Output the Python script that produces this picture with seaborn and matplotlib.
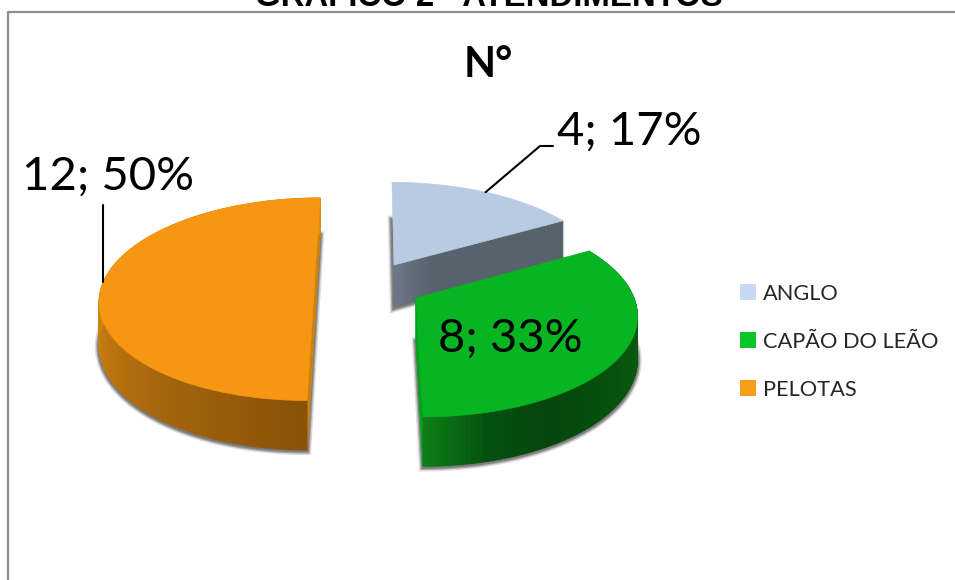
import numpy as np
import matplotlib
matplotlib.use('Agg')
import matplotlib.pyplot as plt
import seaborn as sns
from matplotlib.colors import LinearSegmentedColormap
from matplotlib.patches import Patch

categories = ['ANGLO', 'CAPÃO DO LEÃO', 'PELOTAS']
values = [4, 8, 12]
top_colors = ['#b7cbe3', '#07b421', '#f69612']
legend_colors = ['#c6d9f1', '#0cc42c', '#f99d1c']

# apex x, apex y, rx, ry, lean of the 0-180 axis (one geometry per exploded slice)
slice_geom = [(394, 265, 211, 95, -2.3), (416, 298, 218, 101, -6), (314.5, 284, 212, 99, 6.35)]
PERSP = 0.15
DEPTH = 42

sns.set_theme(style='white')
plt.rcParams['font.family'] = ['Lato', 'DejaVu Sans']


def project(geom, deg, r=1.0, drop=0):
    cx, cy, rx, ry, lean = geom
    t = np.radians(deg)
    u, v = r * np.sin(t), r * np.cos(t)
    w = 1 + PERSP * v
    return cx + (rx * u + lean * v) / w, cy - ry * v / w + drop / w


def outline(geom, a, b, drop=0):
    deg = np.linspace(a, b, 120)
    xs, ys = project(geom, deg, drop=drop)
    ax_, ay_ = project(geom, a, r=0, drop=drop)
    return np.r_[ax_, xs], np.r_[ay_, ys]


def draw_rim(ax, geom, a, b, cmap):
    deg = np.linspace(a, b, 90)
    for i in range(len(deg) - 1):
        x0, y0 = project(geom, deg[i])
        x1, y1 = project(geom, deg[i + 1])
        x2, y2 = project(geom, deg[i + 1], drop=DEPTH)
        x3, y3 = project(geom, deg[i], drop=DEPTH)
        c = cmap(i / (len(deg) - 2))
        ax.fill([x0, x1, x2, x3], [y0, y1, y2, y3], color=c, lw=0.6, zorder=3)


def draw_cut(ax, geom, deg, cmap):
    # flat face between the apex and the rim at angle deg
    rr = np.linspace(0, 1, 40)
    for i in range(len(rr) - 1):
        x0, y0 = project(geom, deg, r=rr[i])
        x1, y1 = project(geom, deg, r=rr[i + 1])
        x2, y2 = project(geom, deg, r=rr[i + 1], drop=DEPTH)
        x3, y3 = project(geom, deg, r=rr[i], drop=DEPTH)
        ax.fill([x0, x1, x2, x3], [y0, y1, y2, y3], color=cmap(i / 38), lw=0.6, zorder=3)


fig, ax = plt.subplots(figsize=(9.55, 5.8), dpi=100)
fig.subplots_adjust(0, 0, 1, 1)
ax.set_xlim(0, 955)
ax.set_ylim(580, 0)
ax.axis('off')
sns.despine(ax=ax, left=True, bottom=True)

# chart frame
ax.plot([8, 8, 956], [581, 12, 12], color='#8f8f8f', lw=1.6, zorder=1)

ax.text(489, 6, 'GRÁFICO 2 - ATENDIMENTOS', family='Liberation Sans', fontweight='bold',
        fontsize=23.7, ha='center', va='baseline', color='black')
ax.text(488, 65, 'N°', fontweight='bold', fontsize=30, ha='center', va='center', color='black')

total = sum(values)
spans = np.cumsum([0] + values) / total * 360
rim_maps = [
    None,
    LinearSegmentedColormap.from_list('g', [(0, '#0a5c10'), (0.33, '#0a5c10'), (0.6, '#05500c'),
                                            (0.75, '#05450c'), (0.88, '#055010'), (1, '#0c7c16')]),
    LinearSegmentedColormap.from_list('o', ['#8a5208', '#a5650c', '#c47c10', '#dc8c14', '#dc8c14', '#dc8c14']),
]
cut_maps = [
    LinearSegmentedColormap.from_list('a', ['#6b7787', '#58626c', '#58626c', '#58626c', '#58626c', '#58626c']),
    LinearSegmentedColormap.from_list('g2', ['#07a01e', '#07a01e']),
    LinearSegmentedColormap.from_list('o2', ['#c9810f', '#c9810f']),
]
cut_angles = [60, 180, 360]

# soft shadow under each slice
for geom, a, b in zip(slice_geom, spans[:-1], spans[1:]):
    xs, ys = outline(geom, a, b, drop=DEPTH)
    for lw, alpha in [(6, 0.25), (4, 0.45), (2.5, 0.7)]:
        ax.fill(xs, ys + 1, facecolor='#707070', edgecolor='#707070', lw=lw, alpha=alpha, zorder=2)

for i, geom in enumerate(slice_geom):
    a, b = spans[i], spans[i + 1]
    draw_cut(ax, geom, cut_angles[i], cut_maps[i])
    if i == 2:
        draw_cut(ax, geom, 180, cut_maps[i])
    if rim_maps[i] is not None:
        draw_rim(ax, geom, a, b, rim_maps[i])
    xs, ys = outline(geom, a, b)
    ax.fill(xs, ys, color=top_colors[i], lw=0.5, zorder=4)

labels = [f'{v}; {round(100 * v / total)}%' for v in values]
ax.text(557, 132, labels[0], fontsize=34, va='center', ha='left', color='black', zorder=6)
ax.text(438, 339, labels[1], fontsize=34, va='center', ha='left', color='black', zorder=6)
ax.text(22, 177, labels[2], fontsize=34, va='center', ha='left', color='black', zorder=6)

# leader lines
x0, y0 = project(slice_geom[0], 30)
ax.plot([x0, 540, 553], [y0, 146, 146], color='black', lw=1.5, zorder=5)
x1, y1 = project(slice_geom[2], 271)
ax.plot([x1, x1], [205, y1], color='black', lw=1.5, zorder=5)

handles = [Patch(facecolor=c, edgecolor='none') for c in legend_colors]
ax.legend(handles, categories, loc='upper left', bbox_to_anchor=(718, 262), bbox_transform=ax.transData,
          frameon=False, fontsize=15.7, handlelength=0.75, handleheight=0.75, handletextpad=0.32,
          labelspacing=1.28, borderpad=0.5, labelcolor='#262626')

fig.savefig('out.png', dpi=100)
